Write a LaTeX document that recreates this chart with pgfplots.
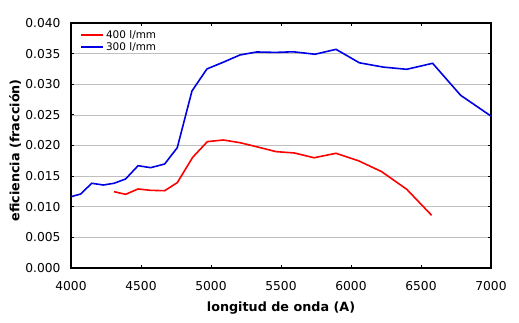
\documentclass[border=0pt]{standalone}
\usepackage{pgfplots}
\pgfplotsset{compat=1.18}
\usepackage{fontspec}
\setmainfont{DejaVu Sans}
\begin{document}
\begin{tikzpicture}[x=1bp,y=1bp]
\begin{axis}[
  name=ax,
  scale only axis,
  width=420bp, height=245bp,
  xmin=4000, xmax=7000, ymin=0, ymax=0.04,
  xtick={4000,4500,...,7000},
  ytick={0,0.005,...,0.0401},
  ymajorgrids, grid style={gray!50, line width=0.7pt},
  axis line style={line width=1.8pt},
  tick align=inside, major tick length=3bp,
  tick style={black, line width=1pt},
  /pgf/number format/assume math mode=true,
  xticklabel style={/pgf/number format/set thousands separator={}, /pgf/number format/fixed, yshift=-10bp},
  yticklabel style={/pgf/number format/fixed, /pgf/number format/fixed zerofill, /pgf/number format/precision=3, xshift=-7bp},
  scaled y ticks=false,
  ticklabel style={font=\fontsize{12.3}{14}\selectfont},
  xlabel={\textbf{longitud de onda (A)}},
  ylabel={\textbf{eficiencia (fracción)}},
  label style={font=\fontsize{12.8}{14}\selectfont},
  xlabel style={at={(axis description cs:0.5,0)}, anchor=center, yshift=-40bp},
  ylabel style={at={(axis description cs:0,0.48)}, anchor=center, yshift=56bp},
  legend style={draw=none, fill=none, at={(0.015,0.985)}, anchor=north west, font=\fontsize{10.5}{12}\selectfont, row sep=-1.3pt},
  legend cell align=left,
  legend image code/.code={\draw[#1, line width=1.6pt] (0bp,0.6bp) -- (22bp,0.6bp);},
]
\addplot[red, line width=1.6pt, mark=none] coordinates {
(4307,0.01246) (4390,0.01203) (4479,0.0129) (4569,0.01268) (4669,0.01262)
(4759,0.01393) (4869,0.01807) (4974,0.02063) (5088,0.0209) (5207,0.02046)
(5326,0.0198) (5464,0.0190) (5595,0.01878) (5736,0.0180) (5893,0.01873)
(6052,0.01752) (6219,0.01573) (6398,0.01285) (6576,0.0086)
};
\addlegendentry{400 l/mm}
\addplot[blue!90!black, line width=1.6pt, mark=none] coordinates {
(4000,0.01164) (4069,0.01208) (4148,0.01383) (4231,0.01355) (4307,0.01383)
(4390,0.01453) (4479,0.0167) (4569,0.01638) (4669,0.01698) (4759,0.01964)
(4864,0.0289) (4971,0.0325) (5088,0.0336) (5207,0.03478) (5326,0.03527)
(5460,0.0352) (5588,0.0353) (5743,0.0349) (5893,0.0357) (6060,0.0335)
(6231,0.0328) (6398,0.03244) (6583,0.03342) (6783,0.0282) (7000,0.0248)
};
\addlegendentry{300 l/mm}
\end{axis}
\path (ax.south west) ++(-71bp,-55bp) rectangle ++(519bp,323bp);
\end{tikzpicture}
\end{document}
